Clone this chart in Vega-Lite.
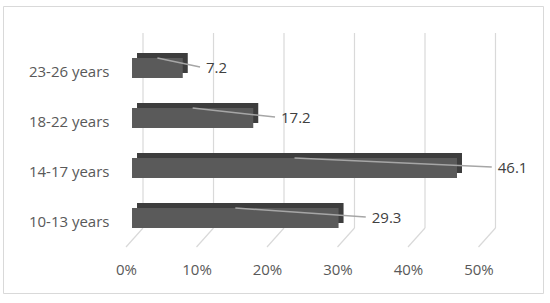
{
  "$schema": "https://vega.github.io/schema/vega-lite/v6.json",
  "width": 540,
  "height": 287,
  "autosize": {"type": "none"},
  "padding": {"left": 3, "top": 6, "right": 7, "bottom": 10},
  "background": "#ffffff",
  "config": {
    "view": {"stroke": "#d9d9d9", "strokeWidth": 1},
    "font": "Open Sans",
    "text": {"font": "Open Sans"}
  },
  "datasets": {
    "ages": [
      {"age": "10-13 years", "value": 29.3},
      {"age": "14-17 years", "value": 46.1},
      {"age": "18-22 years", "value": 17.2},
      {"age": "23-26 years", "value": 7.2}
    ],
    "ticks": [
      {"tick": 0}, {"tick": 10}, {"tick": 20}, {"tick": 30}, {"tick": 40}, {"tick": 50}
    ]
  },
  "resolve": {"scale": {"x": "independent"}},
  "layer": [
    {
      "layer": [
        {
          "data": {"name": "ticks"},
          "mark": {"type": "rule", "color": "#d9d9d9", "strokeWidth": 1.2, "xOffset": 11, "yOffset": -25},
          "encoding": {
            "x": {"field": "tick", "type": "quantitative", "scale": {"domain": [-18.3, 58.3], "nice": false, "zero": false},
                  "axis": {"values": [0, 10, 20, 30, 40, 50], "labelExpr": "datum.value + '%'", "domain": false, "ticks": false, "grid": false,
                           "labelOffset": -6, "labelPadding": 0, "offset": -24, "labelBaseline": "middle", "title": null,
                           "labelFont": "Open Sans", "labelFontSize": 15, "labelColor": "#595959"}},
            "y": {"datum": "23-26 years", "type": "nominal", "bandPosition": 0,
                  "scale": {"domain": ["23-26 years", "18-22 years", "14-17 years", "10-13 years"], "range": [27, 247], "paddingInner": 0.6, "paddingOuter": 0.5, "align": 0.5},
                  "axis": {"domain": false, "ticks": false, "labelPadding": 0, "offset": -106, "labelOffset": 4, "title": null,
                           "labelFont": "Open Sans", "labelFontSize": 15, "labelColor": "#595959"}},
            "y2": {"datum": "10-13 years", "bandPosition": 1}
          }
        },
        {
          "data": {"name": "ticks"},
          "mark": {"type": "rule", "color": "#d9d9d9", "strokeWidth": 1.2, "xOffset": 11, "x2Offset": -6, "y2Offset": 19},
          "encoding": {
            "x": {"field": "tick", "type": "quantitative"},
            "x2": {"field": "tick"},
            "y": {"datum": "10-13 years", "type": "nominal", "bandPosition": 1},
            "y2": {"datum": "10-13 years", "bandPosition": 1}
          }
        },
        {
          "data": {"name": "ages"},
          "mark": {"type": "bar", "color": "#3d3d3d", "xOffset": 5, "x2Offset": 5, "yOffset": -5, "y2Offset": -5},
          "encoding": {
            "x": {"field": "value", "type": "quantitative"},
            "y": {"field": "age", "type": "nominal"}
          }
        },
        {
          "data": {"name": "ages"},
          "mark": {"type": "bar", "color": "#5a5a5a"},
          "encoding": {
            "x": {"field": "value", "type": "quantitative"},
            "y": {"field": "age", "type": "nominal"}
          }
        }
      ]
    },
    {
      "data": {"name": "ages"},
      "layer": [
        {
          "mark": {"type": "rule", "color": "#a6a6a6", "strokeWidth": 1.5, "x2Offset": -6, "xOffset": {"expr": "-20 - 3.975 * datum.value"}},
          "encoding": {
            "x": {"field": "value", "type": "quantitative", "scale": {"domain": [-19.87, 52.13], "nice": false, "zero": false}, "axis": null},
            "x2": {"field": "value"},
            "y": {"field": "age", "type": "nominal", "bandPosition": 0},
            "y2": {"field": "age", "bandPosition": 0.45}
          }
        },
        {
          "mark": {"type": "text", "align": "left", "baseline": "middle", "fontSize": 15, "color": "#404040", "font": "Open Sans"},
          "encoding": {
            "x": {"field": "value", "type": "quantitative"},
            "y": {"field": "age", "type": "nominal"},
            "text": {"field": "value", "type": "quantitative", "format": ".1f"}
          }
        }
      ]
    }
  ]
}
